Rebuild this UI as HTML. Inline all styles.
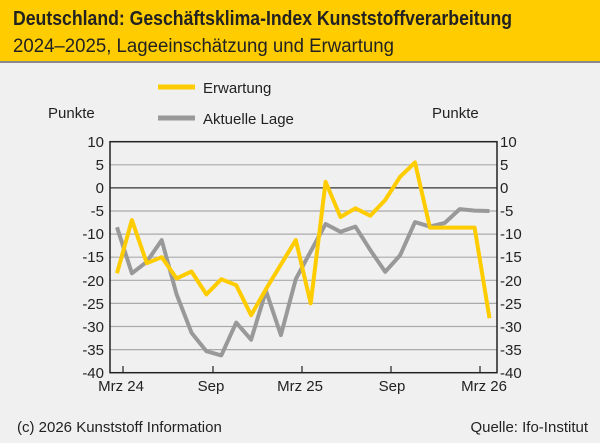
<!DOCTYPE html><html><head><meta charset="utf-8"><style>
body{margin:0;background:#f0f0f0;font-family:"Liberation Sans",sans-serif}
</style></head><body>
<svg width="600" height="443" xmlns="http://www.w3.org/2000/svg" style="display:block;font-family:'Liberation Sans',sans-serif">
<rect width="600" height="443" fill="#f0f0f0"/>
<rect width="600" height="61" fill="#ffcc00"/>
<rect y="61" width="600" height="2" fill="#888"/>
<text x="13" y="25" font-size="20" font-weight="bold" fill="#222" textLength="499" lengthAdjust="spacingAndGlyphs">Deutschland: Geschäftsklima-Index Kunststoffverarbeitung</text>
<text x="13" y="52" font-size="19" fill="#222" textLength="381" lengthAdjust="spacingAndGlyphs">2024–2025, Lageeinschätzung und Erwartung</text>
<line x1="158" y1="87" x2="195" y2="87" stroke="#ffcc00" stroke-width="5"/>
<line x1="158" y1="118" x2="195" y2="118" stroke="#999" stroke-width="5"/>
<g font-size="15" fill="#222">
<text x="203" y="93">Erwartung</text>
<text x="203" y="124">Aktuelle Lage</text>
<text x="48" y="118">Punkte</text>
<text x="432" y="118">Punkte</text>
</g>
<g stroke="#aaa" stroke-width="1.2">
<line x1="110" x2="497" y1="164.8" y2="164.8"/><line x1="110" x2="497" y1="211" y2="211"/><line x1="110" x2="497" y1="234.1" y2="234.1"/><line x1="110" x2="497" y1="257.2" y2="257.2"/><line x1="110" x2="497" y1="280.3" y2="280.3"/><line x1="110" x2="497" y1="303.4" y2="303.4"/><line x1="110" x2="497" y1="326.5" y2="326.5"/><line x1="110" x2="497" y1="349.6" y2="349.6"/>
</g>
<line x1="110" x2="497" y1="187.9" y2="187.9" stroke="#333" stroke-width="1.2"/>
<rect x="110" y="141.7" width="387" height="231" fill="none" stroke="#222" stroke-width="1.5"/>
<g stroke="#222" stroke-width="1.2"><line x1="123" x2="123" y1="372" y2="366"/><line x1="213" x2="213" y1="372" y2="366"/><line x1="302" x2="302" y1="372" y2="366"/><line x1="391" x2="391" y1="372" y2="366"/><line x1="480" x2="480" y1="372" y2="366"/></g>
<polyline fill="none" stroke="#999" stroke-width="4" stroke-linejoin="round" points="117,227.3 131.9,273.3 146.8,261.8 161.7,240.1 176.6,294.4 191.5,332.7 206.4,351.2 221.3,355.4 236.2,322.6 251.1,339.7 266,290.9 280.9,335.1 295.8,279 310.7,251.4 325.6,224 340.5,231.8 355.4,226.6 370.3,250.1 385.2,271.8 400.1,255.3 415,222.1 429.9,226.6 444.8,222.9 459.7,209.1 474.6,210.6 489.5,211"/>
<polyline fill="none" stroke="#ffcc00" stroke-width="4" stroke-linejoin="round" points="117,273.3 131.9,220 146.8,263.2 161.7,257.2 176.6,278.4 191.5,271.5 206.4,294.4 221.3,279.2 236.2,285.2 251.1,315.2 266,289.1 280.9,264.6 295.8,240.1 310.7,303.4 325.6,181.9 340.5,217 355.4,208.3 370.3,215.7 385.2,200 400.1,176.8 415,162.5 429.9,227.6 444.8,227.6 459.7,227.6 474.6,227.6 489.5,318.2"/>
<g font-size="15" fill="#222" text-anchor="end">
<text x="104" y="147">10</text><text x="104" y="170">5</text><text x="104" y="193">0</text><text x="104" y="216">-5</text><text x="104" y="239">-10</text><text x="104" y="262">-15</text><text x="104" y="286">-20</text><text x="104" y="309">-25</text><text x="104" y="332">-30</text><text x="104" y="355">-35</text><text x="104" y="378">-40</text>
</g>
<g font-size="15" fill="#222">
<text x="500" y="147">10</text><text x="500" y="170">5</text><text x="500" y="193">0</text><text x="500" y="216">-5</text><text x="500" y="239">-10</text><text x="500" y="262">-15</text><text x="500" y="286">-20</text><text x="500" y="309">-25</text><text x="500" y="332">-30</text><text x="500" y="355">-35</text><text x="500" y="378">-40</text>
</g>
<g font-size="15" fill="#222" text-anchor="middle">
<text x="121" y="391">Mrz 24</text><text x="211" y="391">Sep</text><text x="300" y="391">Mrz 25</text><text x="392" y="391">Sep</text><text x="484" y="391">Mrz 26</text>
</g>
<text x="17" y="432" font-size="15" fill="#222">(c) 2026 Kunststoff Information</text>
<text x="588" y="432" font-size="15" fill="#222" text-anchor="end">Quelle: Ifo-Institut</text>
</svg>
</body></html>
